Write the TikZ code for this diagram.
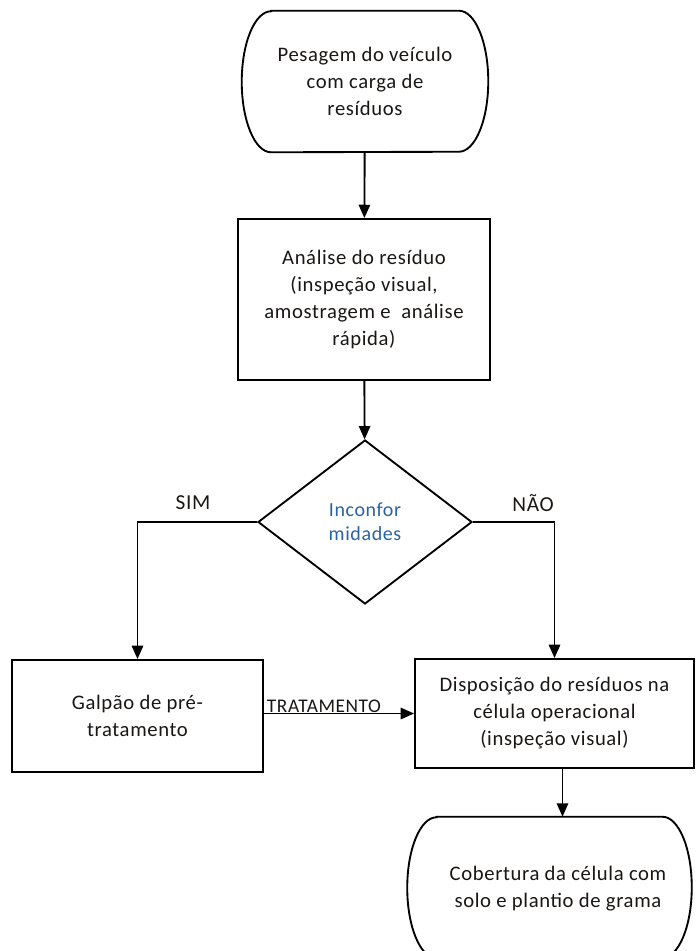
\documentclass[tikz,border=0pt]{standalone}
\usepackage{fontspec}
\setmainfont{Carlito}
\newfontfamily\lsfont[LetterSpace=3]{Carlito}
\usetikzlibrary{shapes.geometric,arrows.meta,calc}
\definecolor{txt}{RGB}{25,22,20}
\definecolor{dtxt}{RGB}{40,100,165}
\begin{document}
\begin{tikzpicture}[x=0.75pt,y=-0.75pt,
  every node/.style={font=\lsfont\fontsize{15.5pt}{20.25pt}\selectfont, text=txt, align=center},
  line/.style={line width=1.4pt, draw=black},
  arr/.style={line, -{Triangle[length=10pt,width=8.5pt]}},
  procbox/.style={draw, line width=1.4pt, rectangle, inner sep=0pt},
  termbox/.style={draw=none, rectangle, inner sep=0pt},
  decbox/.style={draw, line width=1.4pt, diamond, inner sep=0pt, aspect=1.3},
  lbl/.style={font=\lsfont\fontsize{16pt}{18pt}\selectfont, inner sep=1pt}]
\useasboundingbox (0,0) rectangle (697,951);
\node[termbox, minimum width=184.5pt, minimum height=105.75pt] (top) at (365,81.5)
  {Pesagem do veículo\\com carga de\\resíduos};
\node[procbox, minimum width=189pt, minimum height=120.75pt] (anal) at (364,299.5)
  {Análise do resíduo\\(inspeção visual,\\amostragem e \ análise\\rápida)};
\node[decbox, minimum width=160.5pt, minimum height=123pt, text=dtxt,
  font=\lsfont\fontsize{15pt}{18pt}\selectfont] (dec) at (365,522) {Inconfor\\midades};
\node[procbox, minimum width=188.25pt, minimum height=84pt] (galp) at (137.5,716)
  {Galpão de pré-\\tratamento};
\node[procbox, minimum width=209.25pt, minimum height=81.75pt] (disp) at (554.5,713.5)
  {Disposição do resíduos na\\célula operacional\\(inspeção visual)};
\node[termbox, minimum width=213pt, minimum height=105.75pt] (cob) at (549.5,887.5)
  {};
\node (cobtext) at (558,889) {Cobertura da célula com\\solo e plantio de grama};
% terminator outlines with elliptical ends
\foreach \n in {top,cob}{
  \draw[line] ([xshift=22pt]\n.north west) -- ([xshift=-22pt]\n.north east)
    arc[start angle=90, end angle=-90, x radius=22pt, y radius=52.875pt]
    -- ([xshift=22pt]\n.south west)
    arc[start angle=270, end angle=90, x radius=22pt, y radius=52.875pt] -- cycle;
}
\draw[arr] (top) -- (anal);
\draw[arr] (anal) -- (dec);
\draw[arr] (dec.west) -| (galp.north);
\draw[arr] (dec.east) -| (disp.north);
\draw[arr] (galp.east |- disp.west) -- node[lbl, font=\lsfont\fontsize{14.5pt}{16pt}\selectfont, above, inner sep=0pt, pos=0.4] (trat) {TRATAMENTO} (disp.west);
\draw[arr] ([xshift=6pt]disp.south) -- ([xshift=6pt]disp.south |- cob.north);
\node[lbl] (sim) at (193,503) {SIM};
\node[lbl] (nao) at (533,503) {NÃO};
\end{tikzpicture}
\end{document}
